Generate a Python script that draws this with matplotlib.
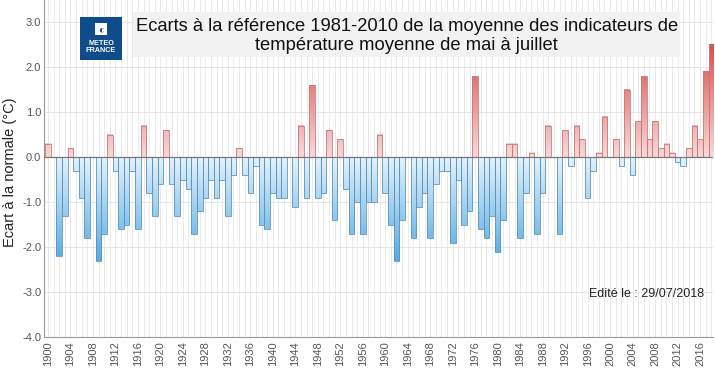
import matplotlib
matplotlib.use("Agg")
import matplotlib.pyplot as plt
import numpy as np
from matplotlib.colors import LinearSegmentedColormap, Normalize
from matplotlib.patches import Rectangle

plt.rcParams['font.family'] = ['Liberation Sans', 'DejaVu Sans']

years = list(range(1900, 2019))
ecarts = [
    0.3, 0.0, -2.2, -1.3, 0.2, -0.3, -0.9, -1.8, 0.0, -2.3,   # 1900-1909
    -1.7, 0.5, -0.3, -1.6, -1.5, -0.3, -1.6, 0.7, -0.8, -1.3,  # 1910-1919
    -0.6, 0.6, -0.6, -1.3, -0.5, -0.7, -1.7, -1.2, -0.9, -0.5, # 1920-1929
    -0.9, -0.5, -1.3, -0.4, 0.2, -0.4, -0.8, -0.2, -1.5, -1.6, # 1930-1939
    -0.8, -0.9, -0.9, 0.0, -1.1, 0.7, -0.9, 1.6, -0.9, -0.8,   # 1940-1949
    0.6, -1.4, 0.4, -0.7, -1.7, -1.0, -1.7, -1.0, -1.0, 0.5,   # 1950-1959
    -0.8, -1.5, -2.3, -1.4, 0.0, -1.8, -1.1, -0.8, -1.8, -0.6, # 1960-1969
    -0.3, -0.3, -1.9, -0.5, -1.5, -1.2, 1.8, -1.6, -1.8, -1.3, # 1970-1979
    -2.1, -1.4, 0.3, 0.3, -1.8, -0.8, 0.1, -1.7, -0.8, 0.7,    # 1980-1989
    0.0, -1.7, 0.6, -0.2, 0.7, 0.4, -0.9, -0.3, 0.1, 0.9,      # 1990-1999
    0.0, 0.4, -0.2, 1.5, -0.4, 0.8, 1.8, 0.4, 0.8, 0.2,        # 2000-2009
    0.3, 0.1, -0.1, -0.2, 0.2, 0.7, 0.4, 1.9, 2.5,             # 2010-2018
]
xtick_years = list(range(1900, 2017, 4))
yticks = [-4, -3, -2, -1, 0, 1, 2, 3]

title = ("Ecarts à la référence 1981-2010 de la moyenne des indicateurs de\n"
         "température moyenne de mai à juillet")

reds = LinearSegmentedColormap.from_list("reds", ["#f8d8d8", "#db4a4a"])
blues = LinearSegmentedColormap.from_list("blues", ["#4fa9e4", "#e4f2fc"])
norm_pos = Normalize(0, 2.6)
norm_neg = Normalize(-2.4, 0)

fig = plt.figure(figsize=(7.15, 3.71), dpi=100)
ax = fig.add_axes([44 / 715, 1 - 337 / 371, 669 / 715, 337 / 371])

ax.set_xticks(xtick_years)
ax.set_xticks(years, minor=True)
ax.grid(axis='x', which='both', color='#e6e6e6', linewidth=0.6, zorder=0)
ax.grid(axis='y', which='major', color='#e2e2e2', linewidth=0.6, zorder=0)
ax.set_axisbelow(True)

for yr, v in zip(years, ecarts):
    if v == 0:
        continue
    if v > 0:
        grad = np.linspace(0, v, 60).reshape(-1, 1)
        ax.imshow(grad, extent=(yr - 0.5, yr + 0.5, 0, v), origin='lower',
                  cmap=reds, norm=norm_pos, aspect='auto', zorder=2)
        edge = '#c47a7a'
    else:
        grad = np.linspace(v, 0, 60).reshape(-1, 1)
        ax.imshow(grad, extent=(yr - 0.5, yr + 0.5, v, 0), origin='lower',
                  cmap=blues, norm=norm_neg, aspect='auto', zorder=2)
        edge = '#5f93b8'
    ax.bar(yr, v, width=1.0, fill=False, edgecolor=edge, linewidth=0.6, zorder=3)

ax.axhline(0, color='#777777', linewidth=0.9, zorder=4)

ax.set_xlim(1899.3, 2018.3)
ax.set_ylim(-4.0, 3.5)
ax.set_yticks(yticks)
ax.set_yticklabels(['{:.1f}'.format(t) for t in yticks])
ax.set_xticklabels([str(y) for y in xtick_years], rotation=90)
ax.tick_params(axis='both', which='both', length=0, labelsize=8, labelcolor='#555555')
ax.tick_params(axis='x', pad=3)
ax.tick_params(axis='y', pad=2)

for s in ['top', 'right']:
    ax.spines[s].set_visible(False)
for s in ['left', 'bottom']:
    ax.spines[s].set_color('#999999')
    ax.spines[s].set_linewidth(0.8)

ax.set_ylabel("Ecart à la normale (°C)", fontsize=10.5, color='#222222')
ax.yaxis.set_label_coords(-0.041, 0.49)

# title box
fig.patches.append(Rectangle((133 / 715, 1 - 57 / 371), 547 / 715, 45 / 371,
                             transform=fig.transFigure, facecolor='#f2f2f2',
                             edgecolor='none', zorder=5))
fig.text(0.569, 1 - 36 / 371, title, ha='center', va='center', fontsize=13.2,
         color='#111111', linespacing=1.2, zorder=6)

# logo
fig.patches.append(Rectangle((80 / 715, 1 - 60 / 371), 42 / 715, 43 / 371,
                             transform=fig.transFigure, facecolor='#0f4c8a',
                             edgecolor='none', zorder=5))
fig.patches.append(Rectangle((95 / 715, 1 - 35 / 371), 12 / 715, 12 / 371,
                             transform=fig.transFigure, facecolor='white',
                             edgecolor='none', zorder=6))
fig.text(101 / 715, 1 - 29 / 371, "◐", ha='center', va='center', fontsize=7,
         color='#0f4c8a', zorder=7)
fig.text(101 / 715, 1 - 47 / 371, "METEO\nFRANCE", ha='center', va='center',
         fontsize=5.2, fontweight='bold', color='white', linespacing=1.0, zorder=6)

ax.text(2016.8, -3.05, "Edité le : 29/07/2018", ha='right', va='center',
        fontsize=9, color='#222222', zorder=6)

fig.savefig("out.png", dpi=100)
